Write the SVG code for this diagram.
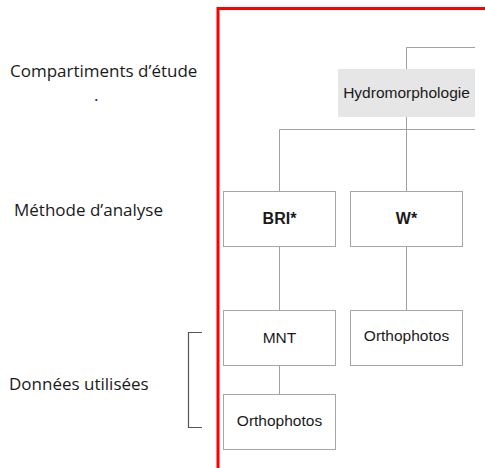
<svg xmlns="http://www.w3.org/2000/svg" width="485" height="468" viewBox="0 0 485 468">
<style>
.lbl{font-family:"Open Sans","Liberation Sans",sans-serif;font-size:17px;fill:#1a1a1a}
.box{fill:#ffffff;stroke:#a6a6a6;stroke-width:1}
.nt{font-family:"Liberation Sans",Arial,sans-serif;font-size:15.5px;fill:#1a1a1a;text-anchor:middle}
.bold{font-weight:bold;font-size:16px}
.conn{stroke:#a0a0a0;stroke-width:1;fill:none}
</style>
<rect width="485" height="468" fill="#ffffff"/>
<text class="lbl" x="10" y="77">Compartiments d’étude</text>
<text class="lbl" x="94" y="101">.</text>
<text class="lbl" x="14" y="216">Méthode d’analyse</text>
<text class="lbl" x="9" y="390">Données utilisées</text>
<path d="M202 332.5H188.5V427.5H202" fill="none" stroke="#555555" stroke-width="1.2"/>
<path d="M218 470V8.5H490" fill="none" stroke="#ff0000" stroke-width="3"/>
<g id="connectors">
<path class="conn" d="M406.5 69V47.5H475"/>
<path class="conn" d="M406.5 117V191"/>
<path class="conn" d="M279.5 191V129.5H475"/>
<path class="conn" d="M279.5 246V310"/>
<path class="conn" d="M406.5 246V310"/>
<path class="conn" d="M279.5 365V394"/>
</g>
<g id="hydro">
<rect x="338" y="69" width="137" height="48" fill="#e6e6e6"/>
<text class="nt" x="406.5" y="98">Hydromorphologie</text>
</g>
<g id="bri">
<rect class="box" x="223.5" y="191.5" width="112" height="55"/>
<text class="nt bold" x="279.5" y="224">BRI*</text>
</g>
<g id="w">
<rect class="box" x="350.5" y="191.5" width="112" height="55"/>
<text class="nt bold" x="406.5" y="224">W*</text>
</g>
<g id="mnt">
<rect class="box" x="223.5" y="310.5" width="112" height="55"/>
<text class="nt" x="279.5" y="343">MNT</text>
</g>
<g id="ortho1">
<rect class="box" x="350.5" y="310.5" width="112" height="55"/>
<text class="nt" x="406.5" y="341">Orthophotos</text>
</g>
<g id="ortho2">
<rect class="box" x="223.5" y="394.5" width="112" height="55"/>
<text class="nt" x="279.5" y="426">Orthophotos</text>
</g>
</svg>
